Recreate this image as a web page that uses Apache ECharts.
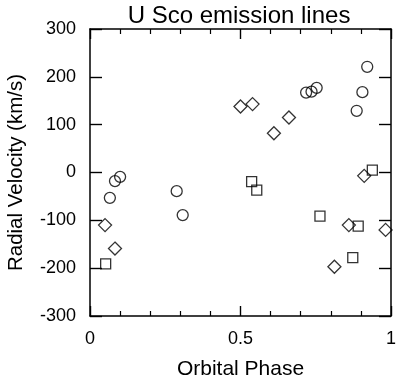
<!DOCTYPE html>
<html><head><meta charset="utf-8">
<script src="https://cdn.jsdelivr.net/npm/echarts@6/dist/echarts.min.js"></script>
<style>html,body{margin:0;padding:0;background:#fff}#c{width:400px;height:379px}</style>
</head><body><div id="c"></div>
<script>
const circles = [[0.066,-53],[0.083,-18],[0.100,-9],[0.288,-39],[0.308,-89],[0.718,167],[0.736,169],[0.753,177],[0.886,129],[0.905,168],[0.921,221]];
const diamonds = [[0.050,-110],[0.083,-159],[0.500,138],[0.540,143],[0.611,82],[0.661,115],[0.812,-197],[0.860,-110],[0.911,-7],[0.982,-120]];
const squares = [[0.052,-191],[0.537,-19],[0.554,-37],[0.764,-91],[0.873,-178],[0.891,-112],[0.938,5]];
const xTicks = [0, 0.5, 1];
const yTicks = [-300, -200, -100, 0, 100, 200, 300];

const F = 'Liberation Sans, Arial, Helvetica, sans-serif';
const chart = echarts.init(document.getElementById('c'));
const axisLine = () => ({show:true, onZero:false, lineStyle:{color:'#000', width:1.5}});
const tick = (len) => ({show:true, inside:true, length:len, lineStyle:{color:'#000', width:1.4}});
const minor = () => ({show:true, splitNumber:5, length:5, lineStyle:{color:'#000', width:1.2}});
const mk = (name, sym, size, data) => ({
  name, type:'scatter', symbol:sym, symbolSize:size, data, xAxisIndex:0, yAxisIndex:0,
  itemStyle:{color:'rgba(255,255,255,0)', borderColor:'#000', borderWidth:1.3}, clip:false
});
chart.setOption({
  animation:false,
  title:{text:'U Sco emission lines', left:234, top:-1, textAlign:'center',
    textStyle:{fontFamily:F, fontSize:24, fontWeight:'normal', color:'#000'}},
  grid:{left:90, right:9, top:29, bottom:63, containLabel:false, outerBoundsMode:'none'},
  xAxis:[
    {type:'value', min:0, max:1, interval:0.5, position:'bottom',
     name:'Orbital Phase', nameLocation:'middle', nameGap:43,
     nameTextStyle:{fontFamily:F, fontSize:21, color:'#000'},
     axisLine:axisLine(), splitLine:{show:false},
     axisTick:tick(10), minorTick:minor(),
     axisLabel:{fontFamily:F, fontSize:18, color:'#000', margin:14,
       formatter:v => xTicks.includes(v) ? String(v) : ''}},
    {type:'value', min:0, max:1, interval:0.5, position:'top',
     axisLine:axisLine(), splitLine:{show:false},
     axisTick:tick(10), minorTick:minor(),
     axisLabel:{show:false}}
  ],
  yAxis:[
    {type:'value', min:-300, max:300, interval:100, position:'left',
     name:'Radial Velocity (km/s)', nameLocation:'middle', nameGap:63,
     nameTextStyle:{fontFamily:F, fontSize:20.5, color:'#000'},
     axisLine:axisLine(), splitLine:{show:false},
     axisTick:tick(12),
     axisLabel:{fontFamily:F, fontSize:18, color:'#000', margin:14,
       formatter:v => yTicks.includes(v) ? String(v) : ''}},
    {type:'value', min:-300, max:300, interval:100, position:'right',
     axisLine:axisLine(), splitLine:{show:false},
     axisTick:tick(12),
     axisLabel:{show:false}}
  ],
  series:[
    mk('circles','circle',11,circles),
    mk('diamonds','diamond',13,diamonds),
    mk('squares','rect',10,squares)
  ]
});
</script></body></html>
